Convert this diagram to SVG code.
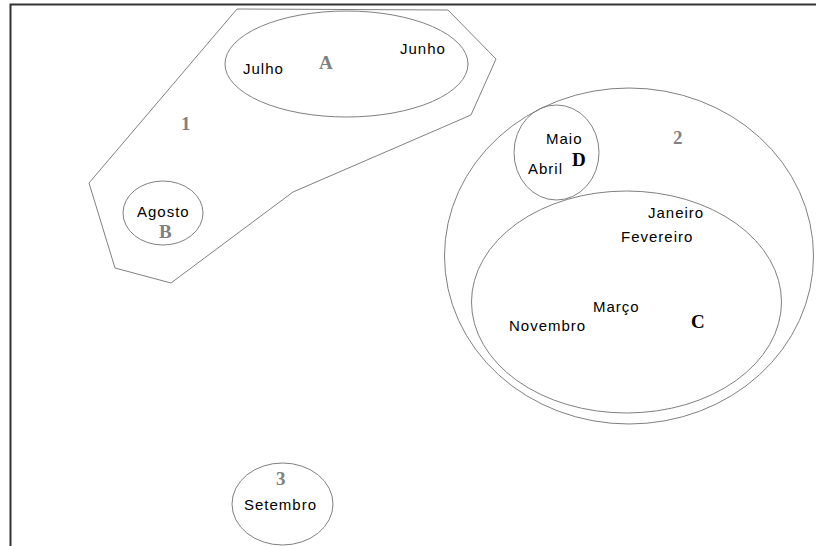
<svg xmlns="http://www.w3.org/2000/svg" width="816" height="546" viewBox="0 0 816 546">
<style>
.s{fill:none;stroke:#808080;stroke-width:1}
.t{font-family:"Liberation Sans",Arial,sans-serif;font-size:15px;letter-spacing:1px;fill:#000}
.g{font-family:"Liberation Serif","Times New Roman",serif;font-size:19px;font-weight:bold;fill:#808080}
.k{font-family:"Liberation Serif","Times New Roman",serif;font-size:19px;font-weight:bold;fill:#000}
</style>
<rect width="816" height="546" fill="#fff"/>
<path d="M10.5 546V4.5H816" fill="none" stroke="#333" stroke-width="2"/>
<g id="set1">
<polygon class="s" points="237,9 448,10 496,59 471,115 293,192 171,283 115,268 89,183"/>
<text class="g" x="181" y="130">1</text>
</g>
<g id="setA">
<ellipse class="s" cx="346.5" cy="64" rx="121.5" ry="53"/>
<text class="t" x="243" y="74">Julho</text>
<text class="t" x="400" y="54">Junho</text>
<text class="g" x="319" y="69">A</text>
</g>
<g id="setB">
<ellipse class="s" cx="163" cy="213" rx="40" ry="32"/>
<text class="t" x="137" y="217">Agosto</text>
<text class="g" x="159" y="238">B</text>
</g>
<g id="set2">
<ellipse class="s" cx="629" cy="256" rx="184.5" ry="168"/>
<text class="g" x="673" y="144">2</text>
</g>
<g id="setD">
<ellipse class="s" cx="556.5" cy="152.5" rx="42.5" ry="47.5"/>
<text class="t" x="546" y="144">Maio</text>
<text class="t" x="528" y="174">Abril</text>
<text class="k" x="572" y="166">D</text>
</g>
<g id="setC">
<ellipse class="s" cx="626.5" cy="302" rx="155" ry="111"/>
<text class="t" x="648" y="218">Janeiro</text>
<text class="t" x="621" y="242">Fevereiro</text>
<text class="t" x="593" y="312">Março</text>
<text class="t" x="509" y="331">Novembro</text>
<text class="k" x="691" y="328">C</text>
</g>
<g id="set3">
<ellipse class="s" cx="282.5" cy="504" rx="50.5" ry="41"/>
<text class="g" x="276" y="485">3</text>
<text class="t" x="244" y="510">Setembro</text>
</g>
<g id="connectors"/>
</svg>
